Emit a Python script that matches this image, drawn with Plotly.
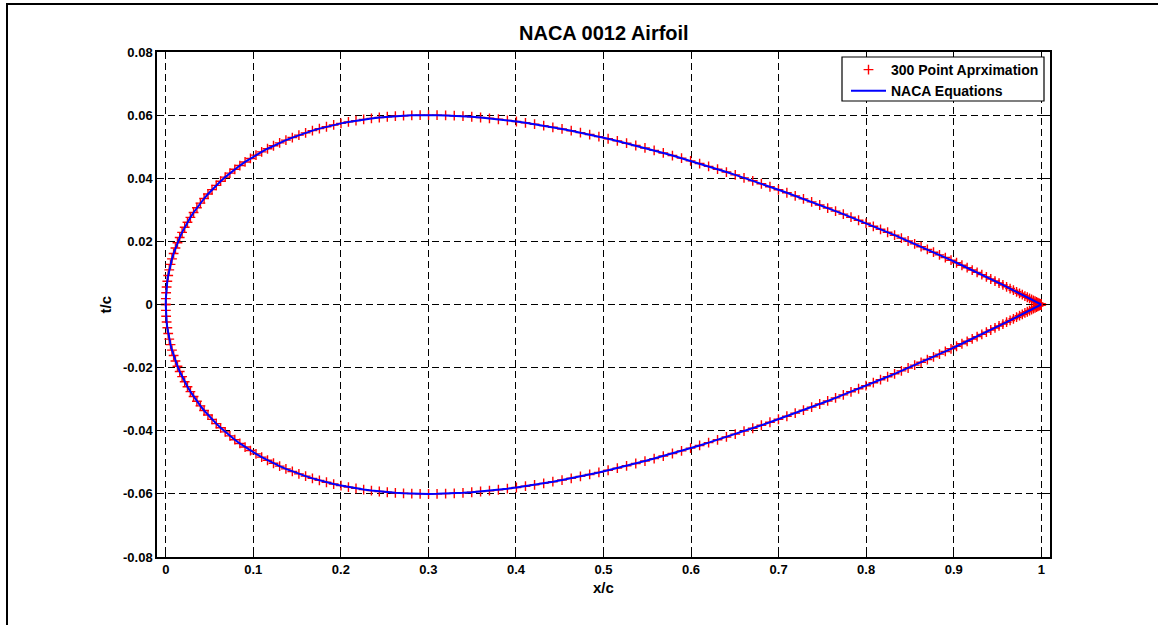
import plotly.graph_objects as go

# Chordwise stations of the 300-point section (150 per surface, clustered at LE/TE)
X_STATIONS = [
    0.00000, 0.00011, 0.00044, 0.00100, 0.00178, 0.00278, 0.00400, 0.00544, 0.00710, 0.00898,
    0.01107, 0.01339, 0.01592, 0.01867, 0.02163, 0.02480, 0.02818, 0.03178, 0.03558, 0.03959,
    0.04380, 0.04822, 0.05283, 0.05765, 0.06266, 0.06787, 0.07327, 0.07886, 0.08463, 0.09059,
    0.09674, 0.10306, 0.10956, 0.11623, 0.12307, 0.13008, 0.13725, 0.14459, 0.15208, 0.15973,
    0.16753, 0.17548, 0.18357, 0.19180, 0.20017, 0.20867, 0.21730, 0.22606, 0.23494, 0.24394,
    0.25305, 0.26227, 0.27160, 0.28102, 0.29055, 0.30017, 0.30988, 0.31967, 0.32954, 0.33949,
    0.34951, 0.35959, 0.36974, 0.37995, 0.39021, 0.40052, 0.41087, 0.42126, 0.43169, 0.44215,
    0.45263, 0.46314, 0.47366, 0.48419, 0.49473,
    0.50527, 0.51581, 0.52634, 0.53686, 0.54737, 0.55785, 0.56831, 0.57874, 0.58913, 0.59948,
    0.60979, 0.62005, 0.63026, 0.64041, 0.65049, 0.66051, 0.67046, 0.68033, 0.69012, 0.69983,
    0.70945, 0.71898, 0.72840, 0.73773, 0.74695, 0.75606, 0.76506, 0.77394, 0.78270, 0.79133,
    0.79983, 0.80820, 0.81643, 0.82452, 0.83247, 0.84027, 0.84792, 0.85541, 0.86275, 0.86992,
    0.87693, 0.88377, 0.89044, 0.89694, 0.90326, 0.90941, 0.91537, 0.92114, 0.92673, 0.93213,
    0.93734, 0.94235, 0.94717, 0.95178, 0.95620, 0.96041, 0.96442, 0.96822, 0.97182, 0.97520,
    0.97837, 0.98133, 0.98408, 0.98661, 0.98893, 0.99102, 0.99290, 0.99456, 0.99600, 0.99722,
    0.99822, 0.99900, 0.99956, 0.99989, 1.00000,
]

# Upper surface thickness t/c at each station
Y_UPPER = [
    0.00000, 0.00187, 0.00372, 0.00556, 0.00738, 0.00917, 0.01096, 0.01272, 0.01446, 0.01618,
    0.01788, 0.01956, 0.02122, 0.02285, 0.02447, 0.02605, 0.02761, 0.02915, 0.03065, 0.03213,
    0.03358, 0.03500, 0.03639, 0.03775, 0.03907, 0.04036, 0.04161, 0.04283, 0.04402, 0.04516,
    0.04627, 0.04734, 0.04836, 0.04935, 0.05030, 0.05120, 0.05207, 0.05289, 0.05366, 0.05439,
    0.05508, 0.05572, 0.05632, 0.05688, 0.05738, 0.05785, 0.05826, 0.05864, 0.05896, 0.05924,
    0.05948, 0.05968, 0.05982, 0.05993, 0.05999, 0.06001, 0.05998, 0.05992, 0.05981, 0.05967,
    0.05948, 0.05925, 0.05899, 0.05869, 0.05835, 0.05798, 0.05757, 0.05713, 0.05666, 0.05615,
    0.05562, 0.05506, 0.05446, 0.05384, 0.05320,
    0.05252, 0.05183, 0.05111, 0.05037, 0.04960, 0.04882, 0.04802, 0.04720, 0.04637, 0.04551,
    0.04465, 0.04377, 0.04287, 0.04197, 0.04106, 0.04013, 0.03920, 0.03826, 0.03731, 0.03635,
    0.03540, 0.03443, 0.03347, 0.03250, 0.03153, 0.03056, 0.02959, 0.02862, 0.02766, 0.02669,
    0.02573, 0.02478, 0.02383, 0.02289, 0.02196, 0.02103, 0.02012, 0.01921, 0.01832, 0.01744,
    0.01657, 0.01571, 0.01487, 0.01404, 0.01323, 0.01244, 0.01166, 0.01091, 0.01017, 0.00945,
    0.00875, 0.00808, 0.00743, 0.00680, 0.00619, 0.00561, 0.00506, 0.00453, 0.00402, 0.00355,
    0.00310, 0.00268, 0.00229, 0.00193, 0.00160, 0.00130, 0.00103, 0.00079, 0.00058, 0.00040,
    0.00026, 0.00015, 0.00006, 0.00002, 0.00000,
]

# Lower surface thickness t/c at each station (symmetric section)
Y_LOWER = [
    -0.00000, -0.00187, -0.00372, -0.00556, -0.00738, -0.00917, -0.01096, -0.01272, -0.01446, -0.01618,
    -0.01788, -0.01956, -0.02122, -0.02285, -0.02447, -0.02605, -0.02761, -0.02915, -0.03065, -0.03213,
    -0.03358, -0.03500, -0.03639, -0.03775, -0.03907, -0.04036, -0.04161, -0.04283, -0.04402, -0.04516,
    -0.04627, -0.04734, -0.04836, -0.04935, -0.05030, -0.05120, -0.05207, -0.05289, -0.05366, -0.05439,
    -0.05508, -0.05572, -0.05632, -0.05688, -0.05738, -0.05785, -0.05826, -0.05864, -0.05896, -0.05924,
    -0.05948, -0.05968, -0.05982, -0.05993, -0.05999, -0.06001, -0.05998, -0.05992, -0.05981, -0.05967,
    -0.05948, -0.05925, -0.05899, -0.05869, -0.05835, -0.05798, -0.05757, -0.05713, -0.05666, -0.05615,
    -0.05562, -0.05506, -0.05446, -0.05384, -0.05320,
    -0.05252, -0.05183, -0.05111, -0.05037, -0.04960, -0.04882, -0.04802, -0.04720, -0.04637, -0.04551,
    -0.04465, -0.04377, -0.04287, -0.04197, -0.04106, -0.04013, -0.03920, -0.03826, -0.03731, -0.03635,
    -0.03540, -0.03443, -0.03347, -0.03250, -0.03153, -0.03056, -0.02959, -0.02862, -0.02766, -0.02669,
    -0.02573, -0.02478, -0.02383, -0.02289, -0.02196, -0.02103, -0.02012, -0.01921, -0.01832, -0.01744,
    -0.01657, -0.01571, -0.01487, -0.01404, -0.01323, -0.01244, -0.01166, -0.01091, -0.01017, -0.00945,
    -0.00875, -0.00808, -0.00743, -0.00680, -0.00619, -0.00561, -0.00506, -0.00453, -0.00402, -0.00355,
    -0.00310, -0.00268, -0.00229, -0.00193, -0.00160, -0.00130, -0.00103, -0.00079, -0.00058, -0.00040,
    -0.00026, -0.00015, -0.00006, -0.00002, -0.00000,
]

X_TICKS = [0, 0.1, 0.2, 0.3, 0.4, 0.5, 0.6, 0.7, 0.8, 0.9, 1.0]
X_TICK_TEXT = ["0", "0.1", "0.2", "0.3", "0.4", "0.5", "0.6", "0.7", "0.8", "0.9", "1"]
Y_TICKS = [-0.08, -0.06, -0.04, -0.02, 0, 0.02, 0.04, 0.06, 0.08]
Y_TICK_TEXT = ["-0.08", "-0.06", "-0.04", "-0.02", "0", "0.02", "0.04", "0.06", "0.08"]

FONT = "Arial, 'Liberation Sans', Helvetica, sans-serif"

# Plot-area geometry in pixels
W, H = 1158, 625
L, R, T, B = 157, 108, 52, 68
PW, PH = W - L - R, H - T - B


def px_x(p):
    return (p - L) / PW


def px_y(p):
    return (H - B - p) / PH


fig = go.Figure()

# Discrete points: upper then lower surface
fig.add_trace(go.Scatter(
    x=X_STATIONS + X_STATIONS,
    y=Y_UPPER + Y_LOWER,
    mode="markers",
    name="300 Point Aprximation",
    marker=dict(symbol="cross-thin", size=7, color="#ff0000",
                line=dict(color="#ff0000", width=1.4)),
))

# Continuous outline: TE -> upper -> LE -> lower -> TE
fig.add_trace(go.Scatter(
    x=X_STATIONS[::-1] + X_STATIONS[1:],
    y=Y_UPPER[::-1] + Y_LOWER[1:],
    mode="lines",
    name="NACA Equations",
    line=dict(color="#0000ff", width=2),
))

axis_common = dict(
    showline=True, linecolor="black", linewidth=1.5, mirror="ticks",
    ticks="inside", ticklen=7, tickcolor="black", tickwidth=1,
    showgrid=True, gridcolor="#000000", gridwidth=1, griddash="7px,4px",
    zeroline=False,
    tickfont=dict(family=FONT, size=13, color="black", weight="bold"),
)

fig.update_xaxes(range=[-0.01, 1.01], tickmode="array", tickvals=X_TICKS,
                 ticktext=X_TICK_TEXT, **axis_common)
fig.update_yaxes(range=[-0.08, 0.08], tickmode="array", tickvals=Y_TICKS,
                 ticktext=Y_TICK_TEXT, **axis_common)

fig.update_layout(
    width=W, height=H,
    margin=dict(l=L, r=R, t=T, b=B, pad=0),
    paper_bgcolor="white", plot_bgcolor="white",
    showlegend=True,
    legend=dict(
        x=px_x(1044), y=px_y(54), xanchor="right", yanchor="top",
        bgcolor="rgba(0,0,0,0)", borderwidth=0,
        font=dict(family=FONT, size=14, color="black", weight="bold"),
        tracegroupgap=0, itemwidth=35,
    ),
    annotations=[
        dict(text="NACA 0012 Airfoil", xref="paper", yref="paper",
             x=0.5, y=px_y(33), xanchor="center", yanchor="middle",
             showarrow=False,
             font=dict(family=FONT, size=20, color="black", weight="bold")),
        dict(text="x/c", xref="paper", yref="paper",
             x=0.5, y=px_y(587), xanchor="center", yanchor="middle",
             showarrow=False,
             font=dict(family=FONT, size=15, color="black", weight="bold")),
        dict(text="t/c", xref="paper", yref="paper",
             x=px_x(105), y=0.5, xanchor="center", yanchor="middle",
             textangle=-90, showarrow=False,
             font=dict(family=FONT, size=15, color="black", weight="bold")),
    ],
    shapes=[
        # Legend box
        dict(type="rect", xref="paper", yref="paper",
             x0=px_x(842), x1=px_x(1044), y0=px_y(101), y1=px_y(57),
             line=dict(color="black", width=1.2), fillcolor="white",
             layer="above"),
        # Figure frame
        dict(type="rect", xref="paper", yref="paper",
             x0=px_x(7), x1=px_x(1175), y0=px_y(640), y1=px_y(4),
             line=dict(color="black", width=2), fillcolor="rgba(0,0,0,0)",
             layer="above"),
    ],
)

fig.write_html("out.html")
